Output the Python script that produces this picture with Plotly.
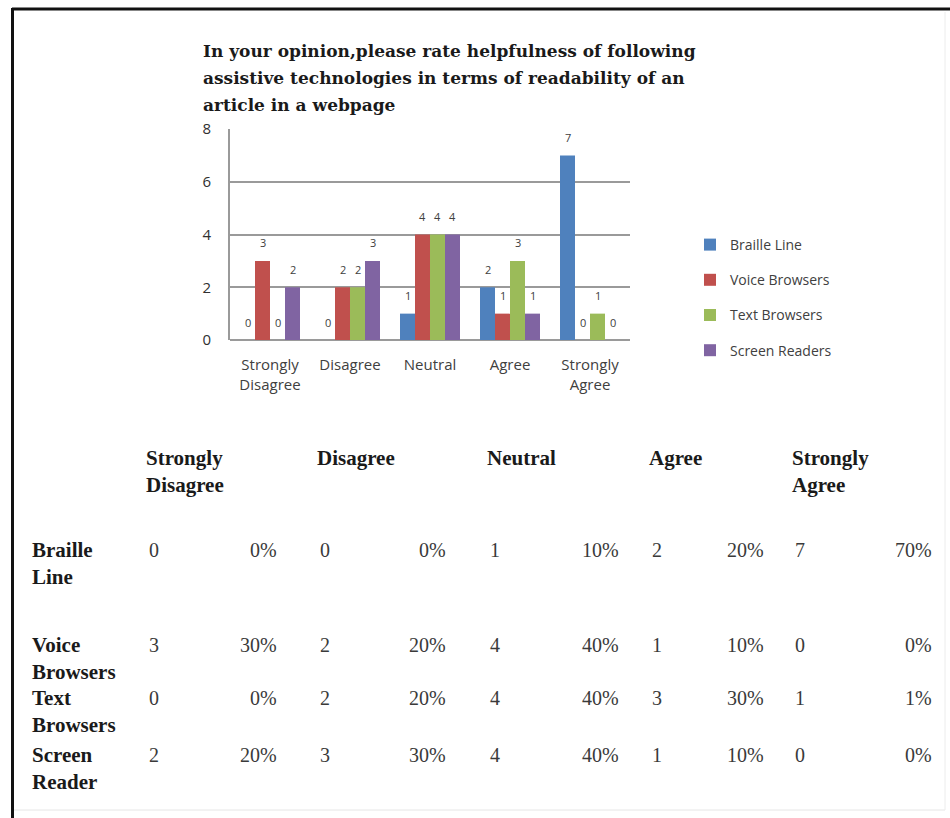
import plotly.graph_objects as go

# ---- data ----
categories = ["Strongly Disagree", "Disagree", "Neutral", "Agree", "Strongly Agree"]
category_ticks = ["Strongly<br>Disagree", "Disagree", "Neutral", "Agree", "Strongly<br>Agree"]
series_names = ["Braille Line", "Voice Browsers", "Text Browsers", "Screen Readers"]
braille_line = [0, 0, 1, 2, 7]
voice_browsers = [3, 2, 4, 1, 0]
text_browsers = [0, 2, 4, 3, 1]
screen_readers = [2, 3, 4, 1, 0]

table_rows = ["Braille<br>Line", "Voice<br>Browsers", "Text<br>Browsers", "Screen<br>Reader"]
table_headers = ["Strongly<br>Disagree", "Disagree", "Neutral", "Agree", "Strongly<br>Agree"]
pct_braille = [0, 0, 10, 20, 70]
pct_voice = [30, 20, 40, 10, 0]
pct_text = [0, 20, 40, 30, 1]
pct_screen = [20, 30, 40, 10, 0]

title_lines = ["In your opinion,please rate helpfulness of following",
               "assistive technologies in terms of readability of an",
               "article in a webpage"]

# ---- styling ----
W, H = 950, 818
L, R, T, B = 230, 630, 129, 340          # plot area in pixels
BARGAP = 0.25
colors = ["#4F81BD", "#C0504D", "#9BBB59", "#8064A2"]
SANS = "Open Sans, Arial, sans-serif"
SERIF = "Liberation Serif, Times New Roman, serif"
TITLE_FONT = "DejaVu Serif, Liberation Serif, serif"


def xp(px):
    return (px - L) / (R - L)


def yp(py):
    return (B - py) / (B - T)


series = [braille_line, voice_browsers, text_browsers, screen_readers]

fig = go.Figure()
for i, (name, vals, col) in enumerate(zip(series_names, series, colors)):
    fig.add_trace(go.Bar(
        name=name, x=categories, y=vals, legendgroup=f"g{i}",
        marker=dict(color=col, line=dict(width=0)),
        cliponaxis=False,
    ))

annotations = []

# title, one annotation per line
for k, line in enumerate(title_lines):
    annotations.append(dict(
        text=f"<b>{line}</b>", xref="paper", yref="paper", x=xp(201), y=yp(51 + 27 * k),
        xanchor="left", yanchor="middle", align="left", showarrow=False,
        font=dict(family=TITLE_FONT, size=17, color="#1a1a1a"),
    ))

# value labels above each bar
bar_px = (R - L) / len(categories) * (1 - BARGAP) / len(series)
for j, vals in enumerate(series):
    for cat, v in zip(categories, vals):
        annotations.append(dict(
            text=str(v), xref="x", yref="y", x=cat, y=v,
            xshift=(j - (len(series) - 1) / 2) * bar_px, yshift=18,
            xanchor="center", yanchor="middle", showarrow=False,
            font=dict(family=SANS, size=11, color="#404040"),
        ))

# ---- table below the chart ----
count_left = [144, 315, 485, 647, 790]
pct_right = [279, 448, 621, 766, 934]
row_y = [550, 645, 698, 755]
header_y = 458
line_h = 27

for hdr, xl in zip(table_headers, count_left):
    n_lines = hdr.count("<br>") + 1
    annotations.append(dict(
        text="<b>" + hdr.replace("<br>", "</b><br><b>") + "</b>",
        xref="paper", yref="paper", x=xp(xl), y=yp(header_y + (n_lines - 1) * line_h / 2),
        xanchor="left", yanchor="middle", align="left", showarrow=False,
        font=dict(family=SERIF, size=21, color="#1a1a1a"),
    ))

pcts = [pct_braille, pct_voice, pct_text, pct_screen]
for label, cnt, pct, yy in zip(table_rows, series, pcts, row_y):
    annotations.append(dict(
        text="<b>" + label.replace("<br>", "</b><br><b>") + "</b>",
        xref="paper", yref="paper", x=xp(30), y=yp(yy + line_h / 2),
        xanchor="left", yanchor="middle", align="left", showarrow=False,
        font=dict(family=SERIF, size=21, color="#1a1a1a"),
    ))
    for c, p, xl, xr in zip(cnt, pct, count_left, pct_right):
        annotations.append(dict(
            text=str(c), xref="paper", yref="paper", x=xp(xl + 3), y=yp(yy),
            xanchor="left", yanchor="middle", showarrow=False,
            font=dict(family=SERIF, size=20, color="#3a3a3a"),
        ))
        annotations.append(dict(
            text=f"{p}%", xref="paper", yref="paper", x=xp(xr), y=yp(yy),
            xanchor="right", yanchor="middle", showarrow=False,
            font=dict(family=SERIF, size=20, color="#3a3a3a"),
        ))

# ---- page frame ----
shapes = [
    dict(type="line", xref="paper", yref="paper", x0=xp(12), x1=xp(950), y0=yp(9), y1=yp(9),
         line=dict(color="#111111", width=3)),
    dict(type="line", xref="paper", yref="paper", x0=xp(12.5), x1=xp(12.5), y0=yp(8), y1=yp(818),
         line=dict(color="#111111", width=3)),
    dict(type="line", xref="paper", yref="paper", x0=xp(14), x1=xp(945), y0=yp(810), y1=yp(810),
         line=dict(color="#e6e6e6", width=1)),
    dict(type="line", xref="paper", yref="paper", x0=xp(945), x1=xp(945), y0=yp(12), y1=yp(810),
         line=dict(color="#ececec", width=1)),
]

fig.update_layout(
    width=W, height=H,
    margin=dict(l=L, r=W - R, t=T, b=H - B, pad=0),
    paper_bgcolor="white", plot_bgcolor="white",
    barmode="group", bargap=BARGAP, bargroupgap=0,
    showlegend=True,
    legend=dict(x=xp(690), y=yp(229), xanchor="left", yanchor="top",
                font=dict(family=SANS, size=14, color="#404040"),
                tracegroupgap=14, traceorder="grouped", bgcolor="rgba(0,0,0,0)"),
    annotations=annotations,
    shapes=shapes,
    font=dict(family=SANS, color="#404040"),
)

fig.update_xaxes(
    tickmode="array", tickvals=categories, ticktext=category_ticks,
    tickfont=dict(family=SANS, size=15, color="#404040"),
    showline=False, showgrid=False, ticks="", ticklabelstandoff=14,
)
fig.update_yaxes(
    range=[0, 8], dtick=2, tickfont=dict(family=SANS, size=15, color="#303030"),
    showgrid=True, gridcolor="#9a9a9a", gridwidth=1.8,
    showline=True, linecolor="#9a9a9a", linewidth=1.8,
    zeroline=True, zerolinecolor="#9a9a9a", zerolinewidth=1.8,
    ticks="", ticklabelstandoff=14,
)

fig.write_html("out.html")
